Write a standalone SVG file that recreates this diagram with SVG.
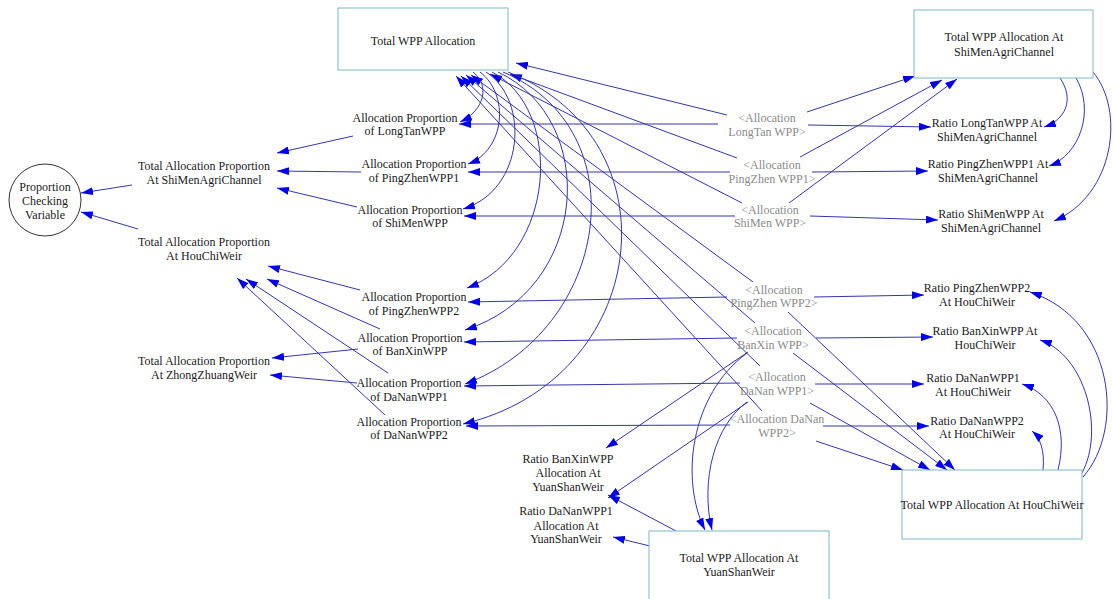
<svg xmlns="http://www.w3.org/2000/svg" width="1113" height="599" viewBox="0 0 1113 599">
<style>
.t{font-family:"Liberation Serif","Times New Roman",serif;font-size:12px;fill:#1a1a1a;text-anchor:middle}
.s{fill:#8a8a8a}
.box{fill:#fff;stroke:#7ab8cc;stroke-width:1}
.c{fill:none;stroke:#3434b4;stroke-width:1;marker-end:url(#a)}
</style>
<defs>
<marker id="a" markerWidth="12" markerHeight="8" refX="12" refY="4" orient="auto" markerUnits="userSpaceOnUse"><path d="M0,0 L12,4 L0,8 z" fill="#0000ee"/></marker>
</defs>
<rect width="1113" height="599" fill="#fff"/>
<g id="connectors">
<path class="c" d="M727,115 L516,63"/>
<path class="c" d="M737,158 L510,74"/>
<path class="c" d="M742,203 L490,74"/>
<path class="c" d="M753,282 L471,75"/>
<path class="c" d="M755,323 L466,75"/>
<path class="c" d="M760,366 L461,76"/>
<path class="c" d="M762,411 L456,76"/>
<path class="c" d="M718,124 L459,124"/>
<path class="c" d="M730,172 L468,172"/>
<path class="c" d="M735,216 L464,216"/>
<path class="c" d="M727,297 L468,302"/>
<path class="c" d="M737,338 L464,342"/>
<path class="c" d="M740,383 L464,386"/>
<path class="c" d="M730,425 L466,426"/>
<path class="c" d="M808,125 L931,127"/>
<path class="c" d="M812,172 L928,171"/>
<path class="c" d="M810,216 L938,220"/>
<path class="c" d="M807,112 L915,76"/>
<path class="c" d="M800,157 L942,80"/>
<path class="c" d="M789,203 L957,79"/>
<path class="c" d="M1060,78 C1075,100 1065,120 1044,127"/>
<path class="c" d="M1076,78 C1095,110 1080,155 1049,166"/>
<path class="c" d="M1093,72 C1125,110 1115,195 1054,221"/>
<path class="c" d="M473,72 C490,85 485,110 460,122"/>
<path class="c" d="M480,72 C510,95 505,150 468,164"/>
<path class="c" d="M486,72 C530,100 525,190 463,209"/>
<path class="c" d="M492,72 C565,110 555,255 467,288"/>
<path class="c" d="M498,72 C600,120 590,290 465,330"/>
<path class="c" d="M503,72 C640,130 610,330 465,384"/>
<path class="c" d="M508,72 C680,140 650,380 463,424"/>
<path class="c" d="M816,441 L903,470"/>
<path class="c" d="M810,403 L930,470"/>
<path class="c" d="M793,353 L947,470"/>
<path class="c" d="M788,312 L955,470"/>
<path class="c" d="M814,297 L924,295"/>
<path class="c" d="M816,338 L933,337"/>
<path class="c" d="M815,384 L924,384"/>
<path class="c" d="M823,426 L929,426"/>
<path class="c" d="M1043,470 C1045,450 1040,438 1032,431"/>
<path class="c" d="M1058,470 C1068,430 1055,395 1022,384"/>
<path class="c" d="M1082,473 C1105,430 1085,355 1040,340"/>
<path class="c" d="M1083,477 C1125,430 1115,320 1030,292"/>
<path class="c" d="M748,352 L606,448"/>
<path class="c" d="M748,402 L608,498"/>
<path class="c" d="M747,353 C690,395 680,480 705,530"/>
<path class="c" d="M747,402 C715,425 700,480 712,530"/>
<path class="c" d="M676,531 L608,495"/>
<path class="c" d="M650,546 L613,537"/>
<path class="c" d="M353,136 L277,153"/>
<path class="c" d="M361,172 L277,171"/>
<path class="c" d="M357,207 L277,188"/>
<path class="c" d="M360,290 L268,266"/>
<path class="c" d="M380,329 L267,279"/>
<path class="c" d="M388,373 L246,279"/>
<path class="c" d="M385,415 L237,278"/>
<path class="c" d="M358,349 L272,358"/>
<path class="c" d="M357,383 L270,375"/>
<path class="c" d="M132,185 L81,193"/>
<path class="c" d="M138,229 L81,212"/>
</g>
<g id="proportion-checking-variable">
<circle cx="45" cy="200" r="36" fill="#fff" stroke="#333" stroke-width="1"/>
<text class="t" x="45" y="191">Proportion</text>
<text class="t" x="45" y="205">Checking</text>
<text class="t" x="45" y="219">Variable</text>
</g>
<g id="total-alloc-prop-shimen">
<text class="t" x="204" y="170">Total Allocation Proportion</text>
<text class="t" x="204" y="184">At ShiMenAgriChannel</text>
</g>
<g id="total-alloc-prop-houchi">
<text class="t" x="204" y="246">Total Allocation Proportion</text>
<text class="t" x="204" y="260">At HouChiWeir</text>
</g>
<g id="total-alloc-prop-zhongzhuang">
<text class="t" x="204" y="365">Total Allocation Proportion</text>
<text class="t" x="204" y="379">At ZhongZhuangWeir</text>
</g>
<g id="total-wpp-allocation">
<rect class="box" x="338" y="8" width="170" height="62"/>
<text class="t" x="423" y="45">Total WPP Allocation</text>
</g>
<g id="total-wpp-shimen">
<rect class="box" x="914" y="10" width="179" height="68"/>
<text class="t" x="1004" y="41">Total WPP Allocation At</text>
<text class="t" x="1004" y="56">ShiMenAgriChannel</text>
</g>
<g id="total-wpp-houchi">
<rect class="box" x="902" y="470" width="180" height="69"/>
<text class="t" x="992" y="509">Total WPP Allocation At HouChiWeir</text>
</g>
<g id="total-wpp-yuanshan">
<rect class="box" x="649" y="531" width="180" height="70"/>
<text class="t" x="739" y="562">Total WPP Allocation At</text>
<text class="t" x="739" y="576">YuanShanWeir</text>
</g>
<g id="ap-longtan">
<text class="t" x="405" y="122">Allocation Proportion</text>
<text class="t" x="405" y="135">of LongTanWPP</text>
</g>
<g id="ap-pingzhen1">
<text class="t" x="414" y="168">Allocation Proportion</text>
<text class="t" x="414" y="182">of PingZhenWPP1</text>
</g>
<g id="ap-shimen">
<text class="t" x="410" y="214">Allocation Proportion</text>
<text class="t" x="410" y="227">of ShiMenWPP</text>
</g>
<g id="ap-pingzhen2">
<text class="t" x="414" y="301">Allocation Proportion</text>
<text class="t" x="414" y="315">of PingZhenWPP2</text>
</g>
<g id="ap-banxin">
<text class="t" x="410" y="342">Allocation Proportion</text>
<text class="t" x="410" y="355">of BanXinWPP</text>
</g>
<g id="ap-danan1">
<text class="t" x="409" y="387">Allocation Proportion</text>
<text class="t" x="409" y="401">of DaNanWPP1</text>
</g>
<g id="ap-danan2">
<text class="t" x="409" y="426">Allocation Proportion</text>
<text class="t" x="409" y="439">of DaNanWPP2</text>
</g>
<g id="sh-longtan">
<text class="t s" x="767" y="122">&lt;Allocation</text>
<text class="t s" x="767" y="136">LongTan WPP&gt;</text>
</g>
<g id="sh-pingzhen1">
<text class="t s" x="772" y="169">&lt;Allocation</text>
<text class="t s" x="772" y="183">PingZhen WPP1&gt;</text>
</g>
<g id="sh-shimen">
<text class="t s" x="770" y="214">&lt;Allocation</text>
<text class="t s" x="770" y="227">ShiMen WPP&gt;</text>
</g>
<g id="sh-pingzhen2">
<text class="t s" x="774" y="294">&lt;Allocation</text>
<text class="t s" x="774" y="307">PingZhen WPP2&gt;</text>
</g>
<g id="sh-banxin">
<text class="t s" x="773" y="335">&lt;Allocation</text>
<text class="t s" x="773" y="349">BanXin WPP&gt;</text>
</g>
<g id="sh-danan1">
<text class="t s" x="777" y="381">&lt;Allocation</text>
<text class="t s" x="777" y="395">DaNan WPP1&gt;</text>
</g>
<g id="sh-danan2">
<text class="t s" x="777" y="423">&lt;Allocation DaNan</text>
<text class="t s" x="777" y="437">WPP2&gt;</text>
</g>
<g id="ratio-longtan-shimen">
<text class="t" x="987" y="127">Ratio LongTanWPP At</text>
<text class="t" x="987" y="141">ShiMenAgriChannel</text>
</g>
<g id="ratio-pingzhen1-shimen">
<text class="t" x="988" y="168">Ratio PingZhenWPP1 At</text>
<text class="t" x="988" y="182">ShiMenAgriChannel</text>
</g>
<g id="ratio-shimen-shimen">
<text class="t" x="991" y="218">Ratio ShiMenWPP At</text>
<text class="t" x="991" y="232">ShiMenAgriChannel</text>
</g>
<g id="ratio-pingzhen2-houchi">
<text class="t" x="977" y="292">Ratio PingZhenWPP2</text>
<text class="t" x="977" y="306">At HouChiWeir</text>
</g>
<g id="ratio-banxin-houchi">
<text class="t" x="985" y="335">Ratio BanXinWPP At</text>
<text class="t" x="985" y="349">HouChiWeir</text>
</g>
<g id="ratio-danan1-houchi">
<text class="t" x="973" y="382">Ratio DaNanWPP1</text>
<text class="t" x="973" y="396">At HouChiWeir</text>
</g>
<g id="ratio-danan2-houchi">
<text class="t" x="977" y="425">Ratio DaNanWPP2</text>
<text class="t" x="977" y="438">At HouChiWeir</text>
</g>
<g id="ratio-banxin-yuanshan">
<text class="t" x="568" y="463">Ratio BanXinWPP</text>
<text class="t" x="568" y="477">Allocation At</text>
<text class="t" x="568" y="491">YuanShanWeir</text>
</g>
<g id="ratio-danan1-yuanshan">
<text class="t" x="566" y="515">Ratio DaNanWPP1</text>
<text class="t" x="566" y="530">Allocation At</text>
<text class="t" x="566" y="543">YuanShanWeir</text>
</g>
</svg>
